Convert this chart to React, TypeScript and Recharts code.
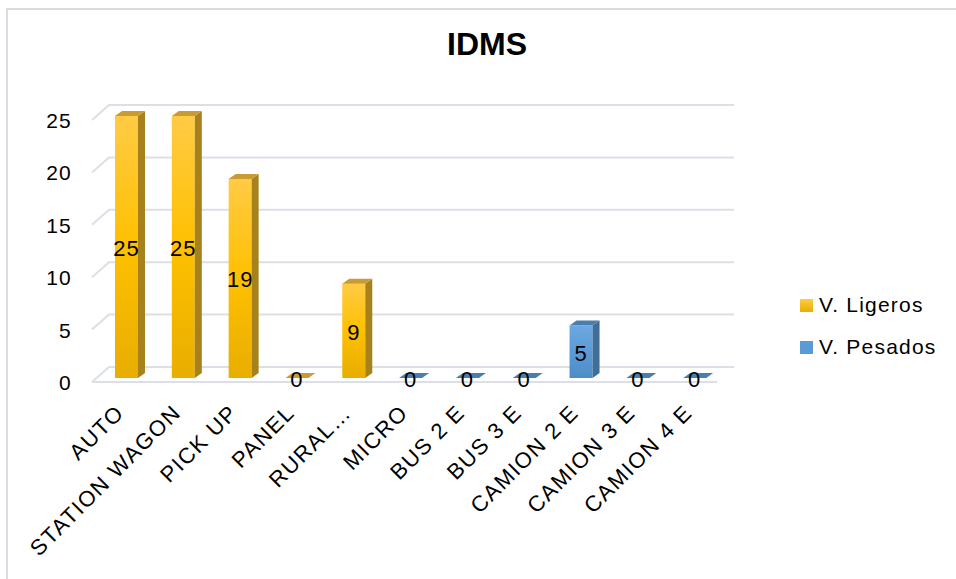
import { BarChart, Bar, XAxis, YAxis, CartesianGrid, LabelList } from 'recharts';

const categories = [
  'AUTO',
  'STATION WAGON',
  'PICK UP',
  'PANEL',
  'RURAL…',
  'MICRO',
  'BUS 2 E',
  'BUS 3 E',
  'CAMION 2 E',
  'CAMION 3 E',
  'CAMION 4 E',
];
const ligeros: (number | null)[] = [25, 25, 19, 0, 9, null, null, null, null, null, null];
const pesados: (number | null)[] = [null, null, null, null, null, 0, 0, 0, 5, 0, 0];
const yTicks = [0, 5, 10, 15, 20, 25];

const seriesInfo = [
  { key: 'ligeros', name: 'V. Ligeros', top: '#FFCB45', mid: '#FFC000', bottom: '#E8AE00', side: '#A7821C', cap: '#C99C33', swatch: '#FFC000' },
  { key: 'pesados', name: 'V. Pesados', top: '#6CA8E2', mid: '#5B9BD5', bottom: '#4E8CC6', side: '#3F6E98', cap: '#4B7EAD', swatch: '#5B9BD5' },
];

const data = categories.map((name, i) => ({ name, ligeros: ligeros[i], pesados: pesados[i] }));

const FONT = '"Liberation Sans", Arial, sans-serif';
// 3d offsets
const SX = 6;
const SY = -4;
const DX = 7;
const DY = 5;
const FLOOR_DX = 17;
const FLOOR_DY = 15;

const make3DBar = (s: (typeof seriesInfo)[number]) => (props: any) => {
  const { x, y, width, height, payload } = props;
  if (payload == null || payload[s.key] == null) return <g />;
  const fx = x + SX;
  const fy = y + SY;
  const h = Math.max(0, height);
  return (
    <g>
      {h > 0 && <rect x={fx} y={fy} width={width} height={h} fill={`url(#grad-${s.key})`} />}
      {h > 0 && (
        <polygon
          points={`${fx + width},${fy} ${fx + width + DX},${fy - DY} ${fx + width + DX},${fy + h - DY} ${fx + width},${fy + h}`}
          fill={s.side}
        />
      )}
      <polygon
        points={`${fx},${fy} ${fx + DX},${fy - DY} ${fx + width + DX},${fy - DY} ${fx + width},${fy}`}
        fill={s.cap}
      />
    </g>
  );
};

const renderLabel = (props: any) => {
  const { x, y, width, height, value } = props;
  if (value == null) return null;
  return (
    <text
      x={x + width / 2 + SX}
      y={y + height / 2 + SY + 9}
      textAnchor="middle"
      fontFamily={FONT}
      fontSize={22}
      letterSpacing={1}
      fill="#000"
    >
      {value}
    </text>
  );
};

const gridLine = (props: any) => {
  const { x1, x2, y1, key } = props;
  let d = `M${x1},${y1} L${x1 + FLOOR_DX},${y1 - FLOOR_DY} L${x2 + FLOOR_DX},${y1 - FLOOR_DY}`;
  if (Math.abs(y1 - 382) < 1) d += ` M${x1},${y1} L${x2},${y1}`;
  return <path key={key} d={d} fill="none" stroke="#DCE0E6" strokeWidth={2} />;
};

const YTick = (props: any) => {
  const { y, payload } = props;
  return (
    <text x={72} y={y + 8} textAnchor="end" fontFamily={FONT} fontSize={21} letterSpacing={1.2} fill="#000">
      {payload.value}
    </text>
  );
};

const XTick = (props: any) => {
  const { x, y, payload } = props;
  const ax = x + 5;
  const ay = y + 24;
  return (
    <text
      x={ax}
      y={ay}
      textAnchor="end"
      transform={`rotate(-45 ${ax} ${ay})`}
      fontFamily={FONT}
      fontSize={22}
      letterSpacing={1.5}
      fill="#000"
    >
      {payload.value}
    </text>
  );
};

export default function App() {
  return (
    <div style={{ position: 'relative', width: 956, height: 579, background: '#fff', overflow: 'hidden' }}>
      <style>{'body { margin: 0; }'}</style>
      <svg width={956} height={579} style={{ position: 'absolute', left: 0, top: 0 }}>
        <path d="M7,579 L7,9 L956,9" fill="none" stroke="#D9DDE3" strokeWidth={2} />
      </svg>
      <div
        style={{
          position: 'absolute',
          left: 0,
          width: 974,
          top: 26,
          textAlign: 'center',
          fontFamily: FONT,
          fontWeight: 'bold',
          fontSize: 32,
          color: '#000',
        }}
      >
        IDMS
      </div>
      <div style={{ position: 'absolute', left: 0, top: 0 }}>
        <BarChart
          width={956}
          height={579}
          data={data}
          barSize={23}
          margin={{ top: 120, right: 239, left: 32, bottom: 157 }}
        >
          <defs>
            {seriesInfo.map((s) => (
              <linearGradient key={s.key} id={`grad-${s.key}`} x1="0" y1="0" x2="0" y2="1">
                <stop offset="0%" stopColor={s.top} />
                <stop offset="50%" stopColor={s.mid} />
                <stop offset="100%" stopColor={s.bottom} />
              </linearGradient>
            ))}
          </defs>
          <CartesianGrid vertical={false} horizontal={gridLine} />
          <XAxis dataKey="name" interval={0} height={40} axisLine={false} tickLine={false} tick={<XTick />} />
          <YAxis
            width={60}
            domain={[0, 25]}
            ticks={yTicks}
            axisLine={false}
            tickLine={false}
            tick={<YTick />}
          />
          {seriesInfo.map((s) => (
            <Bar
              key={s.key}
              dataKey={s.key}
              name={s.name}
              stackId="a"
              fill={s.swatch}
              shape={make3DBar(s)}
              isAnimationActive={false}
            >
              <LabelList dataKey={s.key} content={renderLabel} />
            </Bar>
          ))}
        </BarChart>
      </div>
      {seriesInfo.map((s, i) => (
        <div
          key={s.key}
          style={{
            position: 'absolute',
            left: 800,
            top: 293 + i * 42,
            display: 'flex',
            alignItems: 'center',
            fontFamily: FONT,
            fontSize: 21,
            letterSpacing: 1.2,
            color: '#000',
            whiteSpace: 'nowrap',
          }}
        >
          <span
            style={{
              display: 'inline-block',
              width: 13,
              height: 13,
              marginRight: 6,
              background: i === 0 ? `linear-gradient(${s.top}, ${s.bottom})` : s.swatch,
            }}
          />
          {s.name}
        </div>
      ))}
    </div>
  );
}
